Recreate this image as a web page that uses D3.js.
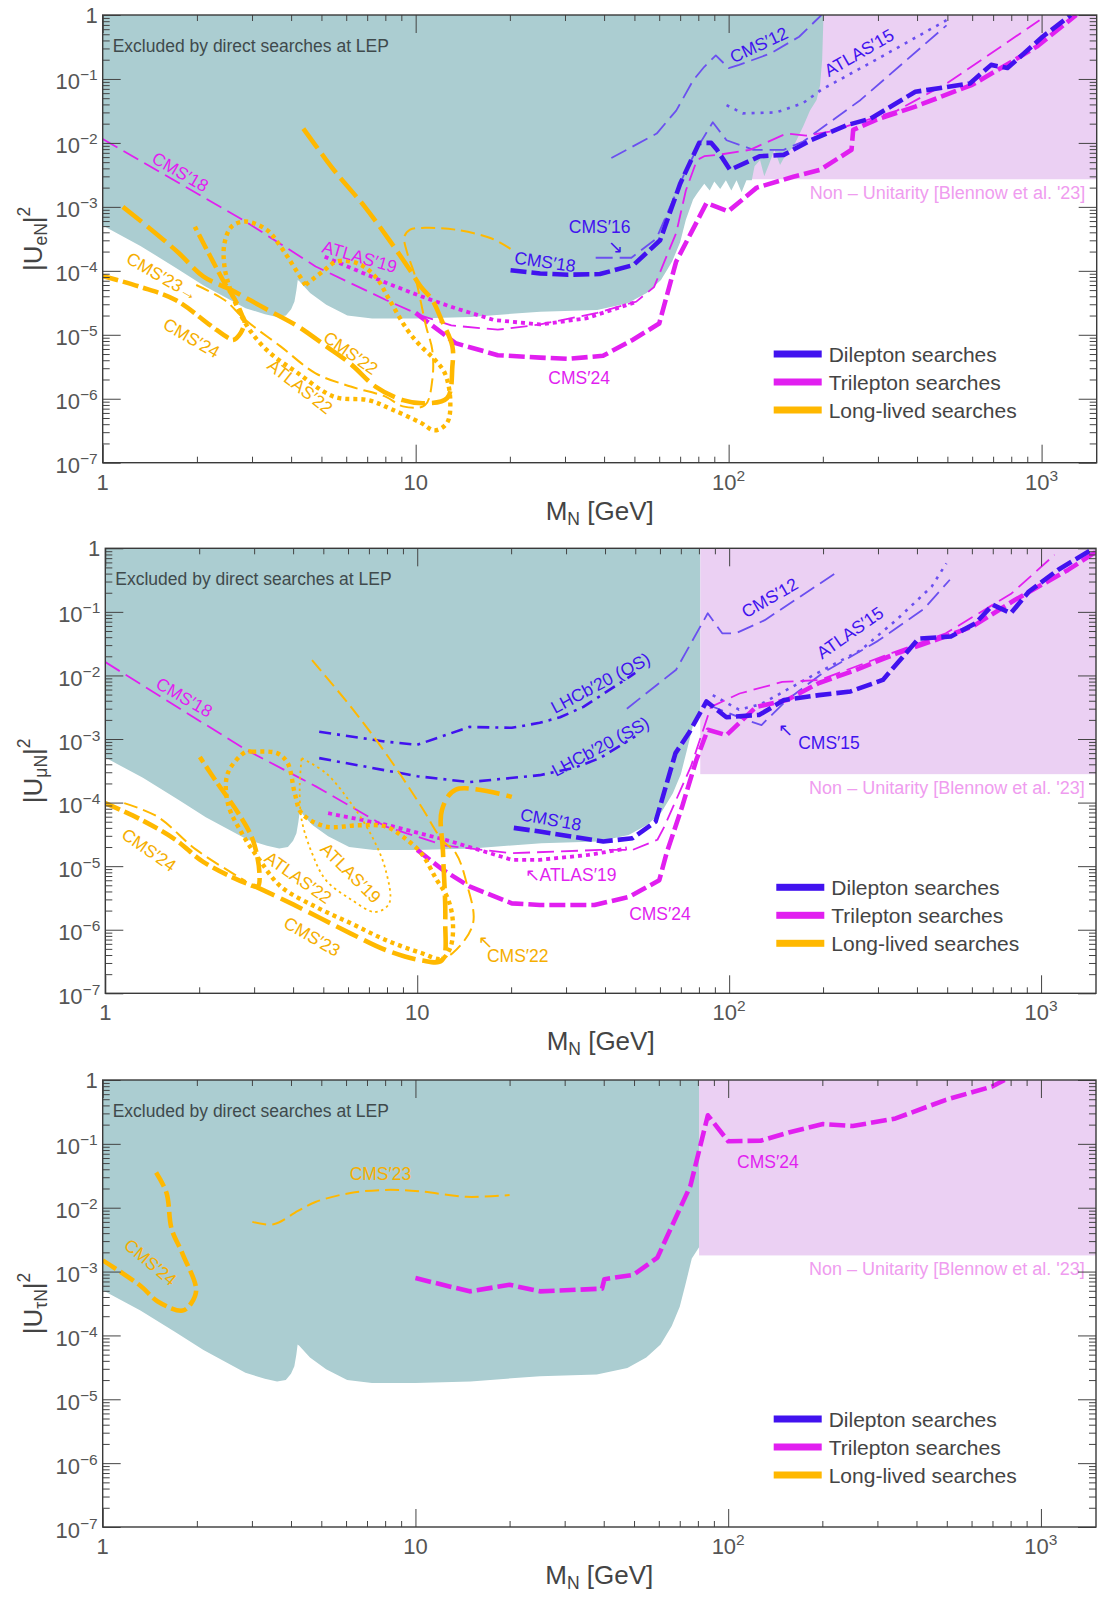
<!DOCTYPE html>
<html>
<head>
<meta charset="utf-8">
<script src="https://cdn.jsdelivr.net/npm/d3@7"></script>
<style>
  body { margin: 0; background: #fff; }
  text { font-family: "Liberation Sans", Arial, sans-serif; }
</style>
</head>
<body>
<svg id="chart" width="1099" height="1598"></svg>
<script>
// ---- data: [mass in GeV, |U|^2] ----
const massDomain = [1, 1500];
const mixDomain = [1e-7, 1];

// LEP exclusion lower edge (same for all flavours up to ~75 GeV)
const lepLower = [[1,5.1e-4],[1.32,2.45e-4],[1.71,1.12e-4],[2.1,5.9e-5],[2.86,2.6e-5],[3.3,2.1e-5],[3.61,1.9e-5],[3.85,2.0e-5],[4.0,2.5e-5],[4.1,3.3e-5],[4.16,5.0e-5],[4.2,7.2e-5],[4.25,6.9e-5],[4.6,4.5e-5],[5.18,2.95e-5],[6.05,2.0e-5],[7.26,1.8e-5],[10,1.8e-5],[15,1.9e-5],[25,2.3e-5],[38,2.45e-5],[47.6,3.1e-5],[54.7,4.5e-5],[60.8,7.2e-5],[66,1.4e-4],[70,2.8e-4],[73,6.3e-4]];
const lepEdgeE = [[77,1.3e-3],[79.2,1.6e-3],[83.6,2.3e-3],[87,1.8e-3],[90,2.5e-3],[94,1.9e-3],[98,2.6e-3],[102,1.8e-3],[106,2.6e-3],[110,1.7e-3],[114,2.6e-3],[118.6,2.6e-3],[121,4.3e-3],[126,5.4e-3],[130,3.0e-3],[135,4.8e-3],[140,7.8e-3],[146,4.5e-3],[152,6.5e-3],[161,8.7e-3],[173,1.8e-2],[182,3.2e-2],[191,4.7e-2],[196,8e-2],[199,0.2],[201,1]];
const lepEdgeMuTau = [[76.5,1.6e-3],[80.7,2.4e-3],[80.7,1]];

// non-unitarity bound: [start mass, lower edge] for e, mu, tau
const nonUnitarity = [[80,2.7e-3],[80.8,2.8e-4],[80.7,1.79e-3]];

// ---- electron panel ----
const eCms18Tri = [[1,1.15e-2],[2.86,5.9e-4],[4.79,1.17e-4],[8.04,3.5e-5],[10.4,2.0e-5],[13,1.4e-5],[18.3,1.2e-5],[25,1.45e-5],[38,2.2e-5],[50.7,3.3e-5],[57.8,5.6e-5],[62.7,1.5e-4],[68,3.9e-4],[73,1.8e-3],[79.2,5.4e-3],[83.6,6.2e-3],[92.4,6.5e-3],[117,7.8e-3],[153,1.4e-2],[177,1.3e-2],[210,1.5e-2],[345,3.2e-2],[497,8.5e-2],[663,0.22],[985,0.83]];
const eAtlas19Tri = [[5.12,1.66e-4],[8.04,6.5e-5],[10.4,4.0e-5],[13.4,2.6e-5],[17.8,1.7e-5],[25,1.45e-5],[35,1.8e-5],[50,3.2e-5]];
const eCms24Tri = [[10,2.2e-5],[13.4,7.4e-6],[18.3,4.8e-6],[25,4.4e-6],[30.7,4.2e-6],[39.7,4.7e-6],[49.3,8.3e-6],[60,1.5e-5],[68,1.4e-4],[76,4e-4],[85,1.15e-3],[99.6,8.5e-4],[123,2.0e-3],[161,2.95e-3],[196,3.8e-3],[247,7.8e-3],[250,1.6e-2],[296,2.3e-2],[395,3.7e-2],[600,8.1e-2],[778,0.17],[965,0.32],[1290,1]];
const eCms18Di = [[20.1,1.02e-4],[25,9.1e-5],[30.7,8.7e-5],[38.8,8.9e-5],[49.6,1.23e-4],[60.4,3.0e-4],[70,2.3e-3],[80.5,1.0e-2],[88,1.0e-2],[91.8,7.8e-3],[101,3.8e-3],[126,6.2e-3],[150,6.5e-3],[183,1.1e-2],[239,1.9e-2],[284,2.4e-2],[395,6.3e-2],[590,8.5e-2],[690,0.166],[778,0.148],[1007,0.457],[1240,1]];
const eCms16 = [[37.6,1.6e-4],[48.9,1.6e-4],[58.8,3.2e-4],[65,1.0e-3],[72,3.2e-3],[80,8.9e-3],[89,2.1e-2],[98.5,1.1e-2],[120,7.8e-3],[150,7.8e-3],[173,1.05e-2],[264,4.7e-2],[497,0.69]];
const eCms12 = [[42.2,5.8e-3],[58.9,1.4e-2],[68,3.2e-2],[77,9.5e-2],[83.6,0.155],[91,0.234],[100,0.148],[108,0.166],[136,0.25],[168,0.457],[198,1]];
const eAtlas15 = [[98.5,3.9e-2],[111,2.9e-2],[142,3.0e-2],[173,4.2e-2],[198,6.8e-2],[296,0.2],[497,0.83]];
const eCms24LL = [[1,8.3e-5],[1.32,5.6e-5],[1.71,3.5e-5],[2.21,1.4e-5],[2.52,8.9e-6],[2.61,8.3e-6],[2.76,1.07e-5],[2.84,1.6e-5],[2.79,2.0e-5],[2.65,3.5e-5],[2.45,6.5e-5],[2.21,1.66e-4],[1.97,4.9e-4]];
const eCms22LL = [[1.16,1.0e-3],[1.43,4.4e-4],[1.75,1.9e-4],[2.1,8.1e-5],[2.58,5.0e-5],[3.34,2.5e-5],[4.21,1.35e-5],[5.18,6.6e-6],[6.2,3.5e-6],[7.44,1.55e-6],[9.1,9.5e-7],[10.7,8.5e-7],[12.6,1.02e-6],[13.1,3.2e-6],[13.1,6.6e-6],[12.1,1.7e-5],[11.3,3.5e-5],[10.4,5.6e-5],[9.6,1.02e-4],[8.25,3.0e-4],[6.88,1.0e-3],[5.6,3.3e-3],[5.18,5.4e-3],[4.33,1.8e-2]];
const eAtlas22LL = [[4.44,6.0e-5],[3.7,2.4e-4],[3.34,4.4e-4],[2.86,5.9e-4],[2.58,4.9e-4],[2.45,2.7e-4],[2.45,1.17e-4],[2.58,4.5e-5],[2.86,1.5e-5],[3.34,5.8e-6],[4.21,2.5e-6],[5.5,1.07e-6],[7.07,9.5e-7],[8.4,6.8e-7],[10.4,4.2e-7],[11.5,3.2e-7],[12.6,4.2e-7],[12.9,9.5e-7],[12.4,2.5e-6],[11.5,4.1e-6],[10.4,6.6e-6],[9.4,1.2e-5],[8.25,3.5e-5],[7.44,8.1e-5],[6.54,1.3e-4],[5.6,1.4e-4],[5.05,9.8e-5],[4.44,6.0e-5]];
const eCms23LL = [[1.99,6.0e-5],[2.45,3.5e-5],[2.86,1.7e-5],[3.7,6.6e-6],[4.79,2.5e-6],[6.2,1.55e-6],[8.04,1.07e-6],[9.1,7.6e-7],[10.7,7.9e-7],[11.3,1.95e-6],[11.3,5.8e-6],[10.8,1.35e-5],[9.9,9.1e-5],[9.4,1.9e-4],[9.2,3.4e-4],[9.6,4.4e-4],[10.7,4.7e-4],[13.4,4.4e-4],[17.5,3.2e-4],[20.1,2.2e-4]];

// ---- muon panel ----
const muCms18Tri = [[1,1.62e-2],[2.82,6.8e-4],[4.73,1.8e-4],[7.92,4.2e-5],[12.3,2.1e-5],[20.1,1.6e-5],[38.5,1.8e-5],[49,1.8e-5],[58.9,2.6e-5],[62,4.2e-5],[67.6,1.1e-4],[75.4,3.7e-4],[87.4,3.2e-3],[108,5.2e-3],[148,7.9e-3],[196,8.5e-3],[311,2.0e-2],[495,4.6e-2],[804,0.195],[1105,0.79]];
const muAtlas19Tri = [[5.18,6.8e-5],[7.92,4.5e-5],[12.3,2.6e-5],[20.1,1.26e-5],[24.7,1.26e-5],[35.4,1.5e-5],[47,1.9e-5]];
const muCms24Tri = [[10,1.8e-5],[12.1,8.7e-6],[14.7,4.8e-6],[20.1,2.6e-6],[24.7,2.45e-6],[37,2.45e-6],[47.9,3.3e-6],[59.7,6.0e-6],[63,1.6e-5],[70.6,8.5e-5],[78.5,4.7e-4],[85.4,1.4e-3],[98,1.15e-3],[122,3.2e-3],[153,4.1e-3],[194,7.6e-3],[247,1.15e-2],[343,2.2e-2],[514,4.4e-2],[604,5.9e-2],[826,0.155],[1220,0.457],[1506,0.89]];
const muCms18Di = [[20.4,4.0e-5],[24.7,3.5e-5],[39.5,2.45e-5],[49,2.75e-5],[58.1,5.0e-5],[67.3,6.0e-4],[74.2,1.23e-3],[84.6,3.9e-3],[98,2.2e-3],[125,2.4e-3],[150,4.1e-3],[194,4.9e-3],[245,5.6e-3],[311,8.5e-3],[405,3.8e-2],[514,4.1e-2],[616,6.6e-2],[700,0.129],[800,9.5e-2],[914,0.209],[1132,0.457],[1476,1]];
const muLhcbOS = [[4.85,1.3e-3],[7.92,9.1e-4],[10,8.1e-4],[14.7,1.55e-3],[20.1,1.5e-3],[24.7,1.8e-3],[28.7,2.2e-3],[34.1,3.2e-3],[47.9,9.5e-3],[50,1.1e-2]];
const muLhcbSS = [[4.85,5.0e-4],[10,2.6e-4],[14.7,2.1e-4],[24.7,2.7e-4],[31.8,3.5e-4],[38.5,5.0e-4],[50,1.1e-3]];
const muCms12 = [[47,3.0e-3],[67.6,1.23e-2],[85.4,9.5e-2],[95,4.6e-2],[105,4.6e-2],[130,7.4e-2],[223,0.43]];
const muAtlas15 = [[88.6,4.9e-3],[107.5,2.9e-3],[126,3.5e-3],[182,9.5e-3],[264,2.5e-2],[343,7.4e-2],[446,0.25],[497,0.58]];
const muCms15 = [[85,3.5e-3],[113,2.0e-3],[127,1.66e-3],[153,4.1e-3],[200,1.1e-2],[300,3.5e-2],[420,0.11],[510,0.32]];
const muCms24LL = [[1,9.8e-5],[1.3,5.4e-5],[1.68,2.6e-5],[2.06,1.17e-5],[2.82,5.4e-6],[3.08,4.8e-6],[3.12,7.8e-6],[2.97,2.6e-5],[2.67,6.8e-5],[2.29,2.0e-4],[2.01,5.2e-4]];
const muCms24LLb = [[1.15,9.8e-5],[1.47,6.0e-5],[1.96,1.8e-5],[2.82,5.8e-6]];
const muCms23LL = [[2.97,5.0e-6],[4.0,2.5e-6],[6.13,8.7e-7],[7.92,4.8e-7],[10.3,3.3e-7],[12,3.3e-7],[12.3,1.4e-6],[12.1,1.6e-5],[12,7.6e-5],[13.3,1.6e-4],[20.1,1.23e-4]];
const muAtlas22LL = [[2.96,6.3e-4],[2.82,6.3e-4],[2.47,2.9e-4],[2.47,9.8e-5],[2.74,3.3e-5],[3.12,1.26e-5],[3.65,4.8e-6],[4.72,2.3e-6],[6.13,1.26e-6],[7.92,6.9e-7],[10.3,4.3e-7],[12,3.5e-7],[12.8,5.4e-7],[13,1.4e-6],[12.5,3.2e-6],[11.5,6.3e-6],[10.3,1.6e-5],[9,2.9e-5],[7.92,4.2e-5],[6.5,4.4e-5],[5.1,4.2e-5],[4.26,6.8e-5],[4.05,1.4e-4],[3.84,4.2e-4],[3.55,6.0e-4],[2.96,6.3e-4]];
const muAtlas19LL = [[4.26,5.0e-4],[5.1,2.9e-4],[6.13,9.8e-5],[7.17,2.9e-5],[7.92,8.7e-6],[8.13,2.6e-6],[7.34,1.9e-6],[6.13,3.0e-6],[5.1,6.0e-6],[4.6,1.6e-5],[4.26,5.4e-5],[4.2,1.8e-4],[4.26,5.0e-4]];
const muCms22LL = [[4.6,1.74e-2],[6.13,3.2e-3],[7.92,6.0e-4],[10.3,8.7e-5],[12,2.6e-5],[13.3,1.6e-5],[14.4,5.4e-6],[15.1,1.26e-6],[13,4.3e-7],[11.4,3.2e-7]];

// ---- tau panel ----
const tauCms24Tri = [[10,7.9e-4],[14.9,4.9e-4],[20,6.2e-4],[25,4.9e-4],[39.5,5.4e-4],[40.2,7.6e-4],[49.8,8.9e-4],[59.4,1.66e-3],[75.7,2.2e-2],[86.1,0.28],[100,0.11],[127,0.112],[156,0.151],[201,0.204],[250,0.19],[343,0.25],[497,0.49],[698,0.79],[765,1]];
const tauCms24LL = [[1,1.5e-3],[1.32,6.0e-4],[1.5,3.4e-4],[1.8,2.45e-4],[1.92,3.2e-4],[1.99,5.2e-4],[1.8,1.9e-3],[1.66,4.7e-3],[1.6,1.7e-2],[1.48,3.6e-2]];
const tauCms23LL = [[3.01,6.0e-3],[3.52,5.5e-3],[4.21,8.9e-3],[4.79,1.23e-2],[6.2,1.7e-2],[8.04,1.9e-2],[10.4,1.8e-2],[14.6,1.48e-2],[20,1.58e-2]];

// ---- tick labels ----
const xTickLabels = [[1,"1",""],[10,"10",""],[100,"10","2"],[1000,"10","3"]];
const yTickLabels = [[1,"1",""],[1e-1,"10","\u22121"],[1e-2,"10","\u22122"],[1e-3,"10","\u22123"],[1e-4,"10","\u22124"],[1e-5,"10","\u22125"],[1e-6,"10","\u22126"],[1e-7,"10","\u22127"]];
const flavourSubs = ["eN", "\u03bcN", "\u03c4N"];
const legendItems = ["Dilepton searches", "Trilepton searches", "Long-lived searches"];

// ---- styles / layout ----
const BLUE = "#4112ef", LBLUE = "#6b4ff0", MAG = "#e11ff0", ORA = "#ffb800", ORAT = "#f5ae00";
const TEAL = "#abcdd1", PINK = "#ebd0f3", PINKTXT = "#ef9cef", INK = "#444";
const legendColors = [BLUE, MAG, ORA];
const lineStyles = {
  thickDash: { w: 4.6, dash: "16,5" },
  thinDash:  { w: 1.8, dash: "17,7" },
  thickDot:  { w: 4.4, dash: "4,4" },
  thinDot:   { w: 2.6, dash: "3,6" },
  magDot:    { w: 3.8, dash: "4,4" },
  longDash:  { w: 4.6, dash: "24,7" },
  oraThin:   { w: 2, dash: "14,6" },
  oraDot:    { w: 1.8, dash: "2.5,3.5" },
  dashDot:   { w: 2.6, dash: "12,6,3,6" }
};

const panels = [
  { left: 102.7, right: 1096.7, top: 15, bottom: 462.7, lepEdge: lepEdgeE,
    curves: [
      [eCms12, LBLUE, "thinDash"], [eCms16, LBLUE, "thinDash"], [eAtlas15, LBLUE, "thinDot"],
      [eCms18Tri, MAG, "thinDash"], [eAtlas19Tri, MAG, "magDot"], [eCms24Tri, MAG, "thickDash"],
      [eCms18Di, BLUE, "thickDash"],
      [eCms23LL, ORA, "oraThin", true], [eCms24LL, ORA, "thickDash", true], [eCms22LL, ORA, "longDash", true], [eAtlas22LL, ORA, "thickDot", true]
    ],
    notes: [
      ["CMS\u203218", 1.77, 3.5e-3, 30, MAG], ["ATLAS\u203219", 6.62, 1.66e-4, 16, MAG],
      ["CMS\u203223\u2192", 1.55, 8.1e-5, 30, ORAT], ["CMS\u203224", 1.92, 8.9e-6, 30, ORAT],
      ["CMS\u203222", 6.2, 5.2e-6, 35, ORAT], ["ATLAS\u203222", 4.27, 1.55e-6, 38, ORAT],
      ["CMS\u203224", 33.3, 2.1e-6, 0, MAG], ["CMS\u203218", 25.9, 1.38e-4, 8, BLUE],
      ["CMS\u203216", 38.7, 4.9e-4, 0, BLUE], ["\u2198", 43.4, 2.4e-4, 0, BLUE],
      ["CMS\u203212", 125, 0.34, -25, BLUE], ["ATLAS\u203215", 261, 0.257, -30, BLUE]
    ] },
  { left: 105.3, right: 1096, top: 548.3, bottom: 993.3, lepEdge: lepEdgeMuTau,
    curves: [
      [muCms12, LBLUE, "thinDash"], [muCms15, LBLUE, "thinDash"], [muAtlas15, LBLUE, "thinDot"],
      [muLhcbOS, BLUE, "dashDot"], [muLhcbSS, BLUE, "dashDot"],
      [muCms18Tri, MAG, "thinDash"], [muAtlas19Tri, MAG, "magDot"], [muCms24Tri, MAG, "thickDash"],
      [muCms18Di, BLUE, "thickDash"],
      [muCms22LL, ORA, "oraThin", true], [muAtlas19LL, ORA, "oraDot", true], [muCms24LLb, ORA, "oraThin", true],
      [muCms24LL, ORA, "thickDash", true], [muCms23LL, ORA, "longDash", true], [muAtlas22LL, ORA, "thickDot", true]
    ],
    notes: [
      ["CMS\u203218", 1.79, 4.5e-3, 30, MAG], ["CMS\u203224", 1.38, 1.8e-5, 35, ORAT],
      ["ATLAS\u203222", 4.15, 6.6e-6, 35, ORAT], ["ATLAS\u203219", 6.12, 7.8e-6, 45, ORAT],
      ["CMS\u203223", 4.6, 7.8e-7, 30, ORAT], ["\u2196", 16.6, 6.4e-7, 0, ORAT],
      ["CMS\u203222", 21, 3.9e-7, 0, ORAT], ["\u2196ATLAS\u203219", 31, 7.2e-6, 0, MAG],
      ["CMS\u203224", 60, 1.8e-6, 0, MAG], ["CMS\u203218", 26.8, 5.4e-5, 10, BLUE],
      ["LHCb\u203220 (OS)", 38.7, 7.6e-3, -28, BLUE], ["LHCb\u203220 (SS)", 38.7, 7.6e-4, -28, BLUE],
      ["CMS\u203212", 135, 0.166, -30, BLUE], ["ATLAS\u203215", 244, 4.7e-2, -35, BLUE],
      ["\u2196", 152, 1.38e-3, 0, BLUE], ["CMS\u203215", 209, 8.7e-4, 0, BLUE]
    ] },
  { left: 102.7, right: 1096, top: 1080, bottom: 1527, lepEdge: lepEdgeMuTau,
    curves: [
      [tauCms24Tri, MAG, "thickDash"],
      [tauCms23LL, ORA, "oraThin", true], [tauCms24LL, ORA, "thickDash", true]
    ],
    notes: [
      ["CMS\u203224", 134, 5.2e-2, 0, MAG], ["CMS\u203223", 7.73, 3.4e-2, 0, ORAT],
      ["CMS\u203224", 1.42, 1.4e-3, 40, ORAT]
    ] }
];

const svg = d3.select("#chart");
const isMajor = v => Math.abs(Math.log10(v) - Math.round(Math.log10(v))) < 1e-6;

panels.forEach((p, i) => {
  const x = d3.scaleLog().domain(massDomain).range([p.left, p.right]);
  const y = d3.scaleLog().domain(mixDomain).range([p.bottom, p.top]);
  const root = svg.append("g");

  root.append("clipPath").attr("id", "clip" + i)
    .append("rect").attr("x", p.left).attr("y", p.top)
    .attr("width", p.right - p.left).attr("height", p.bottom - p.top);
  const plot = root.append("g").attr("clip-path", `url(#clip${i})`);

  // non-unitarity region
  const [nuStart, nuLow] = nonUnitarity[i];
  plot.append("rect")
    .attr("x", x(nuStart)).attr("y", y(1))
    .attr("width", x(1500) - x(nuStart)).attr("height", y(nuLow) - y(1))
    .attr("fill", PINK);

  // LEP region
  const lep = lepLower.concat(p.lepEdge);
  plot.append("path").datum(lep)
    .attr("d", d3.area().x(d => x(d[0])).y0(y(1)).y1(d => y(d[1])))
    .attr("fill", TEAL);

  // limit curves
  const straight = d3.line().x(d => x(d[0])).y(d => y(d[1]));
  const smooth = d3.line().x(d => x(d[0])).y(d => y(d[1])).curve(d3.curveCatmullRom.alpha(0.5));
  p.curves.forEach(([data, col, st, isSmooth]) => {
    const s = lineStyles[st];
    plot.append("path").datum(data)
      .attr("d", isSmooth ? smooth : straight)
      .attr("fill", "none").attr("stroke", col)
      .attr("stroke-width", s.w).attr("stroke-dasharray", s.dash)
      .attr("stroke-linejoin", "round");
  });

  // curve labels
  p.notes.forEach(([txt, m, u, rot, col]) => {
    root.append("text")
      .attr("transform", `translate(${x(m)},${y(u)}) rotate(${rot})`)
      .attr("text-anchor", "middle").attr("dominant-baseline", "central")
      .attr("font-size", 17.5).attr("fill", col).text(txt);
  });

  root.append("text").attr("x", p.left + 10).attr("y", p.top + 37)
    .attr("font-size", 17.5).attr("fill", "#3f4a4c")
    .text("Excluded by direct searches at LEP");

  root.append("text").attr("x", x(1380)).attr("y", y(nuLow) + 20)
    .attr("text-anchor", "end").attr("font-size", 18).attr("fill", PINKTXT)
    .text("Non \u2013 Unitarity [Blennow et al. '23]");

  // legend
  legendItems.forEach((name, k) => {
    const ly = p.top + 339 + k * 28;
    root.append("rect").attr("x", p.left + 671).attr("y", ly - 3.5)
      .attr("width", 48).attr("height", 7).attr("fill", legendColors[k]);
    root.append("text").attr("x", p.left + 726).attr("y", ly + 7.5)
      .attr("font-size", 21).attr("fill", INK).text(name);
  });

  // axes: inward ticks on all four sides
  const xMinor = x.ticks().filter(v => !isMajor(v));
  const xMajor = x.ticks().filter(isMajor);
  const yMinor = y.ticks().filter(v => !isMajor(v));
  const yMajor = y.ticks().filter(isMajor);
  const axes = [
    [d3.axisBottom(x).tickValues(xMinor).tickSize(-6), `translate(0,${p.bottom})`],
    [d3.axisBottom(x).tickValues(xMajor).tickSize(-18), `translate(0,${p.bottom})`],
    [d3.axisTop(x).tickValues(xMinor).tickSize(-6), `translate(0,${p.top})`],
    [d3.axisTop(x).tickValues(xMajor).tickSize(-18), `translate(0,${p.top})`],
    [d3.axisLeft(y).tickValues(yMinor).tickSize(-7), `translate(${p.left},0)`],
    [d3.axisLeft(y).tickValues(yMajor).tickSize(-18), `translate(${p.left},0)`],
    [d3.axisRight(y).tickValues(yMinor).tickSize(-7), `translate(${p.right},0)`],
    [d3.axisRight(y).tickValues(yMajor).tickSize(-18), `translate(${p.right},0)`]
  ];
  axes.forEach(([ax, tr]) => {
    const g = root.append("g").attr("transform", tr).call(ax.tickFormat(""));
    g.select(".domain").remove();
    g.selectAll("line").attr("stroke", INK).attr("stroke-width", 1);
  });
  root.append("rect").attr("x", p.left).attr("y", p.top)
    .attr("width", p.right - p.left).attr("height", p.bottom - p.top)
    .attr("fill", "none").attr("stroke", "#3a3a3a").attr("stroke-width", 1.4);

  // tick labels
  xTickLabels.forEach(([v, base, sup]) => {
    const t = root.append("text").attr("x", x(v)).attr("y", p.bottom + 27)
      .attr("text-anchor", "middle").attr("font-size", 22).attr("fill", "#555");
    t.append("tspan").text(base);
    if (sup) t.append("tspan").attr("font-size", 15.5).attr("dy", -9).text(sup);
  });
  yTickLabels.forEach(([v, base, sup]) => {
    const t = root.append("text").attr("x", p.left - 5).attr("y", y(v) + (sup ? 10.5 : 8))
      .attr("text-anchor", "end").attr("font-size", 22).attr("fill", "#555");
    t.append("tspan").text(base);
    if (sup) t.append("tspan").attr("font-size", 15.5).attr("dy", -9).text(sup);
  });

  // axis titles
  const xt = root.append("text").attr("x", (p.left + p.right) / 2).attr("y", p.bottom + 57)
    .attr("text-anchor", "middle").attr("font-size", 26).attr("fill", INK);
  xt.append("tspan").text("M");
  xt.append("tspan").attr("font-size", 17.5).attr("dy", 5).text("N");
  xt.append("tspan").attr("dy", -5).text(" [GeV]");

  const yt = root.append("text")
    .attr("transform", `translate(42,${(p.top + p.bottom) / 2}) rotate(-90)`)
    .attr("text-anchor", "middle").attr("font-size", 26).attr("fill", INK);
  yt.append("tspan").text("|U");
  yt.append("tspan").attr("font-size", 17.5).attr("dy", 5).text(flavourSubs[i]);
  yt.append("tspan").attr("dy", -5).text("|");
  yt.append("tspan").attr("font-size", 17.5).attr("dy", -12).text("2");
});
</script>
</body>
</html>
